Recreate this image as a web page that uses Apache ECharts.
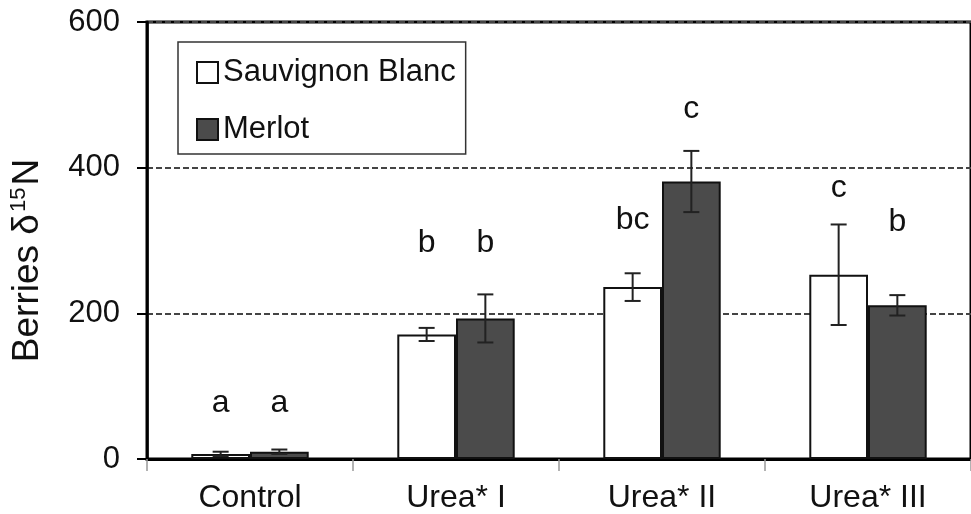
<!DOCTYPE html>
<html>
<head>
<meta charset="utf-8">
<script src="https://cdn.jsdelivr.net/npm/echarts@6/dist/echarts.min.js"></script>
<style>
  html, body { margin: 0; padding: 0; background: #fff; }
  #chart { width: 971px; height: 514px; }
</style>
</head>
<body>
<div id="chart"></div>
<script>
// Treatments on the x axis
const categories = ['Control', 'Urea* I', 'Urea* II', 'Urea* III'];
const yTicks = [0, 200, 400, 600];

// Mean berry δ15N per treatment and its error
const sauvignonMean = [7, 171, 236, 253];
const sauvignonErr = [3, 9, 19, 69];
const merlotMean = [10, 193, 381, 211];
const merlotErr = [3, 33, 42, 14];

// Significance letters and the height they sit at (δ15N units)
const sauvignonLetters = ['a', 'b', 'bc', 'c'];
const sauvignonLetterAt = [76, 297, 328, 372];
const merlotLetters = ['a', 'b', 'c', 'b'];
const merlotLetterAt = [76, 297, 480, 325];

const FONT = '"Liberation Sans", Arial, sans-serif';
const CAT_GAP = 0.43;

const chart = echarts.init(document.getElementById('chart'), null, { renderer: 'canvas' });

function errorSeries(name, means, errs, letters, letterAt, side) {
  return {
    type: 'custom',
    name: name + ' error',
    z: 5,
    data: means.map((m, i) => [i, m, errs[i], letterAt[i]]),
    renderItem(params, api) {
      const cat = api.value(0);
      const mean = api.value(1);
      const err = api.value(2);
      const band = api.size([1, 0])[0];
      const barW = band * (1 - CAT_GAP) / 2;
      const x = api.coord([cat, mean])[0] + side * barW / 2;
      const yHi = api.coord([cat, mean + err])[1];
      const yLo = api.coord([cat, mean - err])[1];
      const yLetter = api.coord([cat, api.value(3)])[1];
      const cap = 8;
      const st = { stroke: '#222', lineWidth: 2 };
      return {
        type: 'group',
        children: [
          { type: 'line', shape: { x1: x, y1: yHi, x2: x, y2: yLo }, style: st },
          { type: 'line', shape: { x1: x - cap, y1: yHi, x2: x + cap, y2: yHi }, style: st },
          { type: 'line', shape: { x1: x - cap, y1: yLo, x2: x + cap, y2: yLo }, style: st },
          {
            type: 'text',
            x: x,
            y: yLetter,
            style: {
              text: letters[params.dataIndex],
              font: '32px ' + FONT,
              fill: '#111',
              align: 'center',
              verticalAlign: 'middle'
            }
          }
        ]
      };
    }
  };
}

const option = {
  animation: false,
  backgroundColor: '#fff',
  grid: {
    left: 147, top: 22, bottom: 55, right: -8,
    show: true, borderColor: '#000', borderWidth: 3, backgroundColor: 'transparent'
  },
  legend: {
    orient: 'vertical',
    left: 178, top: 42,
    data: ['Sauvignon Blanc', 'Merlot'],
    icon: 'rect',
    itemWidth: 21, itemHeight: 21,
    itemGap: 26,
    itemTextGap: 8,
    itemStyle: { borderColor: '#111', borderWidth: 2 },
    padding: [15, 10, 9, 18],
    borderColor: '#333', borderWidth: 1.5,
    backgroundColor: '#fff',
    textStyle: { fontFamily: FONT, fontSize: 31, color: '#111' }
  },
  xAxis: {
    type: 'category',
    data: categories,
    axisLine: { lineStyle: { color: '#000', width: 3 } },
    axisTick: { show: true, length: 12, lineStyle: { color: '#999', width: 1.5 } },
    axisLabel: { fontFamily: FONT, fontSize: 32, color: '#111', margin: 23 },
    splitLine: { show: false }
  },
  yAxis: {
    type: 'value',
    min: yTicks[0], max: yTicks[yTicks.length - 1], interval: 200,
    name: 'Berries δ{sup|15}N',
    nameLocation: 'middle',
    nameGap: 99,
    nameRotate: 90,
    nameTextStyle: {
      fontFamily: FONT, fontSize: 37, color: '#111', lineHeight: 40,
      padding: [0, 40, 0, 0],
      rich: { sup: { fontFamily: FONT, fontSize: 22, color: '#111', verticalAlign: 'top', lineHeight: 40, padding: [0, 2, 14, 2] } }
    },
    axisLine: { show: true, lineStyle: { color: '#000', width: 2.5 } },
    axisTick: { show: true, length: 10, lineStyle: { color: '#000', width: 2 } },
    axisLabel: { fontFamily: FONT, fontSize: 31, color: '#111', margin: 27 },
    splitLine: { show: true, lineStyle: { color: '#444', width: 2, type: [6, 3] } }
  },
  series: [
    {
      name: 'Sauvignon Blanc',
      type: 'bar',
      data: sauvignonMean,
      barGap: '0%',
      barCategoryGap: (CAT_GAP * 100) + '%',
      itemStyle: { color: '#fff', borderColor: '#111', borderWidth: 2 }
    },
    {
      name: 'Merlot',
      type: 'bar',
      data: merlotMean,
      barGap: '0%',
      barCategoryGap: (CAT_GAP * 100) + '%',
      itemStyle: { color: '#4b4b4b', borderColor: '#111', borderWidth: 2 }
    },
    errorSeries('Sauvignon Blanc', sauvignonMean, sauvignonErr, sauvignonLetters, sauvignonLetterAt, -1),
    errorSeries('Merlot', merlotMean, merlotErr, merlotLetters, merlotLetterAt, 1)
  ]
};

chart.setOption(option);
</script>
</body>
</html>
